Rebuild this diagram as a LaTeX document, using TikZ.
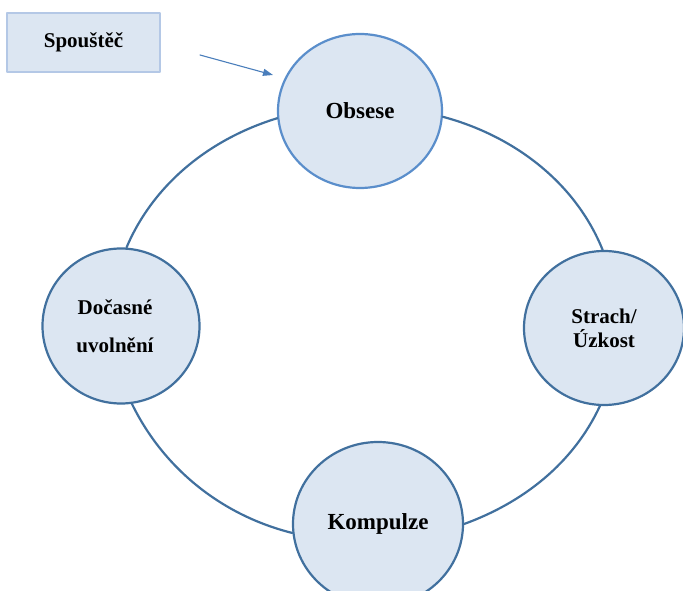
\documentclass[tikz,border=0pt]{standalone}
\usepackage{fontspec}
\setmainfont{Liberation Serif}
\usetikzlibrary{shapes.geometric,arrows.meta}
\definecolor{fillblue}{HTML}{DCE6F2}
\definecolor{edgeblue}{HTML}{41709E}
\definecolor{lightedge}{HTML}{5A8ECB}
\definecolor{boxedge}{HTML}{B4C8E6}
\definecolor{arrowblue}{HTML}{4A7EBB}
\begin{document}
\begin{tikzpicture}[x=1pt, y=1pt, line join=round, line cap=round,
	stage/.style={ellipse, draw=edgeblue, line width=2.2pt, fill=fillblue, inner sep=0pt, align=center, font=\bfseries\fontsize{21}{24}\selectfont},
	cycleline/.style={draw=edgeblue, line width=2.2pt, looseness=0.9}]
	\useasboundingbox (0,0) rectangle (683,590);
	\clip (0,0) rectangle (683,590);
	% trigger box and its arrow
	\node[draw=boxedge, line width=2pt, fill=fillblue, minimum width=153, minimum height=59, font=\bfseries\fontsize{21}{24}\selectfont] (spoustec) at (83.5,547.5) {Spouštěč};
	\coordinate (trigstart) at (200,535);
	\coordinate (trigend) at (273,515);
	\draw[-{Triangle[length=10pt,width=7pt]}, arrowblue, line width=1.1pt] (trigstart) -- (trigend);
	% the four stages
	\node[stage, draw=lightedge, minimum width=164, minimum height=154, font=\bfseries\fontsize{23}{26}\selectfont] (obsese) at (360,479) {Obsese};
	\node[stage, minimum width=160, minimum height=154] (strach) at (604,262) {Strach/\\Úzkost};
	\node[stage, minimum width=170, minimum height=164, font=\bfseries\fontsize{23}{26}\selectfont] (kompulze) at (378,66) {Kompulze};
	\node[stage, minimum width=157, minimum height=155, font=\bfseries\fontsize{21}{38}\selectfont] (docasne) at (121,264) {Dočasné\hspace*{12pt}\\uvolnění\hspace*{12pt}};
	% the cycle
	\draw[cycleline] (obsese.356) to[out=345, in=112] (strach.91);
	\draw[cycleline] (strach.267) to[out=245, in=20] (kompulze.0);
	\draw[cycleline] (kompulze.186) to[out=166, in=-64] (docasne.278);
	\draw[cycleline] (docasne.86) to[out=67, in=197] (obsese.185);
\end{tikzpicture}
\end{document}
